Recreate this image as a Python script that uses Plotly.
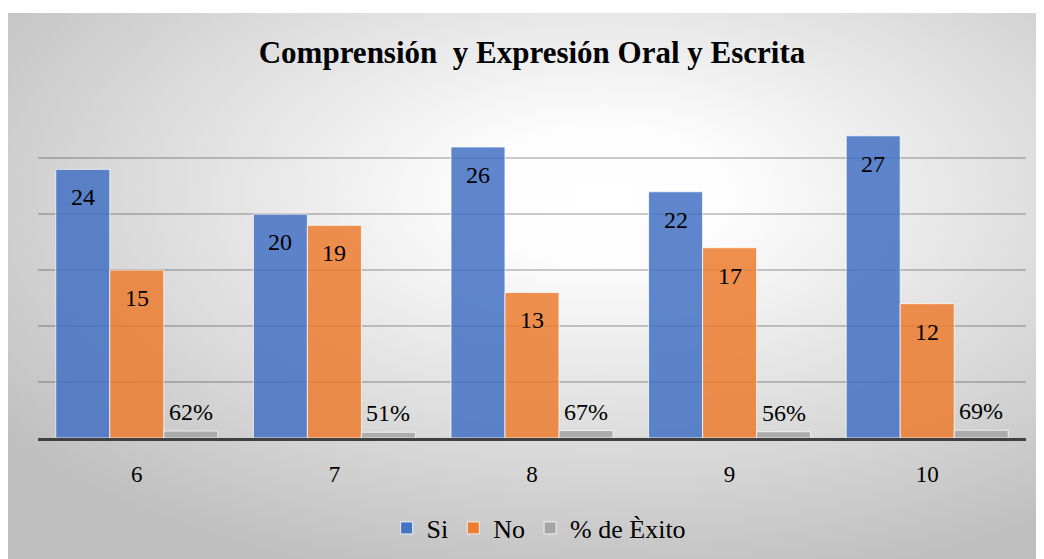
import base64
import plotly.graph_objects as go

categories = [6, 7, 8, 9, 10]
si_values = [24, 20, 26, 22, 27]
no_values = [15, 19, 13, 17, 12]
exito_values = [0.62, 0.51, 0.67, 0.56, 0.69]
exito_labels = ["62%", "51%", "67%", "56%", "69%"]
tick_labels = ["6", "7", "8", "9", "10"]

W, H = 1044, 559
FONT = "Liberation Serif"

svg = """<svg xmlns='http://www.w3.org/2000/svg' width='1044' height='554' viewBox='0 0 1044 554' preserveAspectRatio='none'>
<defs><radialGradient id='g' cx='0.57' cy='0.33' r='0.72'>
<stop offset='0' stop-color='#ffffff'/><stop offset='0.18' stop-color='#fcfcfc'/>
<stop offset='1' stop-color='#bfbfbf'/></radialGradient></defs>
<rect x='0' y='0' width='1044' height='554' fill='url(#g)'/></svg>"""
uri = "data:image/svg+xml;base64," + base64.b64encode(svg.encode()).decode()

fig = go.Figure()
colors = ["#4472C4", "#ED7D31", "#A5A5A5"]
names = ["Si", "No", "% de Èxito"]
for vals, c, n in zip([si_values, no_values, exito_values], colors, names):
    fig.add_trace(go.Bar(x=categories, y=vals, name=n, marker=dict(color=c, opacity=0.85,
                         line=dict(color="rgba(255,255,255,0.8)", width=1)),
                         hoverinfo="skip"))

ml, mr, mt, mb = 30, 26, 111, 129
ymax = 28.5
bw = 0.82 / 3
annotations = []
for i, x in enumerate(categories):
    annotations.append(dict(x=x - bw, y=si_values[i], text=str(si_values[i]), showarrow=False,
                            yanchor="middle", yshift=-28))
    annotations.append(dict(x=x, y=no_values[i], text=str(no_values[i]), showarrow=False,
                            yanchor="middle", yshift=-28))
    annotations.append(dict(x=x + bw, y=exito_values[i], text=exito_labels[i], showarrow=False,
                            yanchor="middle", yshift=19))

pw, ph = W - ml - mr, H - mt - mb
fig.update_layout(
    width=W, height=H,
    font=dict(family=FONT, size=24, color="black"),
    margin=dict(l=ml, r=mr, t=mt, b=mb, pad=0),
    paper_bgcolor="white", plot_bgcolor="rgba(0,0,0,0)",
    barmode="group", bargap=0.18, bargroupgap=0,
    title=dict(text="<b>Comprensión\u00a0 y Expresión Oral y Escrita</b>",
               x=524 / W, xanchor="center", xref="container",
               y=1 - 44 / H, yanchor="middle", yref="container",
               font=dict(family=FONT, size=31)),
    xaxis=dict(range=[5.5, 10.5], tickvals=categories, ticktext=tick_labels,
               showgrid=False, zeroline=False, showline=True, linecolor="#404040", linewidth=3,
               ticks="", ticklabelstandoff=13, tickfont=dict(family=FONT, size=23)),
    yaxis=dict(range=[0, ymax], tick0=0, dtick=5, showticklabels=False, ticks="",
               showgrid=True, gridcolor="rgba(0,0,0,0.2)", gridwidth=1.5, zeroline=False, showline=False),
    legend=dict(orientation="h", x=529 / W, xanchor="center", y=-(520 - 430) / ph, yanchor="middle",
                font=dict(family=FONT, size=26), bgcolor="rgba(0,0,0,0)",
                itemwidth=30, traceorder="normal"),
    annotations=annotations,
    images=[dict(source=uri, xref="paper", yref="paper",
                 x=-ml / pw, y=(H - mb - 5) / ph,
                 sizex=W / pw, sizey=(H - 5) / ph,
                 xanchor="left", yanchor="top", sizing="stretch", layer="below")],
)
fig.write_html("out.html")
